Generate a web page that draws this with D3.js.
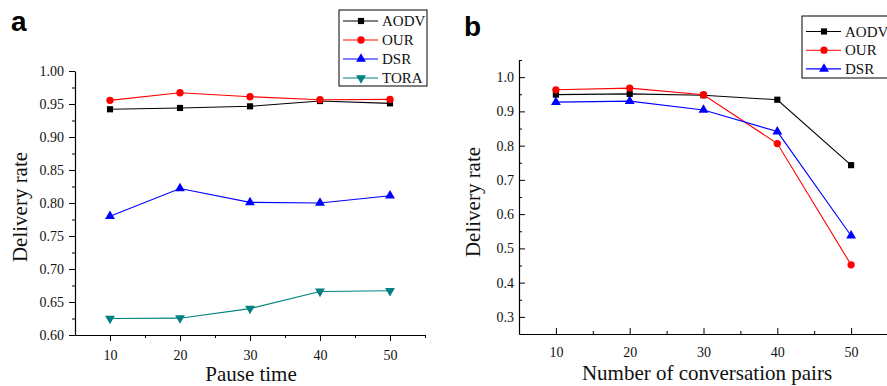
<!DOCTYPE html>
<html><head><meta charset="utf-8">
<script src="https://cdn.jsdelivr.net/npm/d3@7"></script>
<style>body{margin:0;background:#fff;} svg{display:block;}</style>
</head><body>
<svg id="c" width="887" height="386"></svg>
<script>
// Panel a data
const pauseTime = [10, 20, 30, 40, 50];
const aAODV = [0.942, 0.944, 0.9465, 0.9545, 0.951];
const aOUR  = [0.9555, 0.967, 0.961, 0.9565, 0.957];
const aDSR  = [0.780, 0.822, 0.801, 0.800, 0.811];
const aTORA = [0.625, 0.6255, 0.640, 0.666, 0.667];
const aYTicks = [0.60, 0.65, 0.70, 0.75, 0.80, 0.85, 0.90, 0.95, 1.00];
// Panel b data
const pairs = [10, 20, 30, 40, 50];
const bAODV = [0.949, 0.951, 0.947, 0.934, 0.743];
const bOUR  = [0.963, 0.968, 0.9485, 0.806, 0.452];
const bDSR  = [0.927, 0.930, 0.904, 0.841, 0.537];
const bYTicks = [0.3, 0.4, 0.5, 0.6, 0.7, 0.8, 0.9, 1.0];
const xTicks = [10, 20, 30, 40, 50];
const xMinor = [15, 25, 35, 45, 55];

const seriesNames = ["AODV", "OUR", "DSR", "TORA"];
const colors = {AODV: "#000000", OUR: "#ff0000", DSR: "#0000ff", TORA: "#008080"};
const symbols = {AODV: "square", OUR: "circle", DSR: "up", TORA: "down"};

const svg = d3.select("#c");
const serif = "'Liberation Serif','Times New Roman',serif";

function marker(g, kind, x, y, color) {
  let path;
  if (kind === "square") path = d3.symbol(d3.symbolSquare, 38)();
  else if (kind === "circle") path = d3.symbol(d3.symbolCircle, 42)();
  else path = d3.symbol(d3.symbolTriangle, 42)();
  g.append("path").attr("d", path)
    .attr("transform", `translate(${x},${y})` + (kind === "down" ? " rotate(180)" : ""))
    .attr("fill", color).attr("stroke", "none");
}

function styleAxis(g) {
  g.attr("font-family", serif).attr("font-size", 14);
  g.selectAll("path.domain").attr("stroke", "#000").attr("stroke-width", 1.2);
  g.selectAll(".tick line").attr("stroke", "#000").attr("stroke-width", 1);
  g.selectAll("text").attr("font-family", serif).attr("font-size", 14).attr("fill", "#111");
}

function panel(cfg) {
  const g = svg.append("g");
  const x = d3.scaleLinear().domain([5, 55]).range([cfg.x0, cfg.x1]);
  const y = d3.scaleLinear().domain(cfg.yDomain).range([cfg.y0, cfg.y1]);
  const dir = cfg.inward ? -1 : 1;

  // minor ticks
  const gyMinor = g.append("g").attr("transform", `translate(${cfg.x0},0)`)
    .call(d3.axisLeft(y).tickValues(cfg.yMinor).tickSize(3 * dir).tickFormat(""));
  const gxMinor = g.append("g").attr("transform", `translate(0,${cfg.y0})`)
    .call(d3.axisBottom(x).tickValues(xMinor).tickSize(3 * dir).tickFormat(""));
  [gyMinor, gxMinor].forEach(a => { a.select("path.domain").remove(); styleAxis(a); });

  const gy = g.append("g").attr("transform", `translate(${cfg.x0},0)`)
    .call(d3.axisLeft(y).tickValues(cfg.yTicks).tickSize(6 * dir).tickSizeOuter(0)
      .tickPadding(5).tickFormat(d3.format(cfg.fmt)));
  styleAxis(gy);
  const gx = g.append("g").attr("transform", `translate(0,${cfg.y0})`)
    .call(d3.axisBottom(x).tickValues(xTicks).tickSize(6 * dir).tickSizeOuter(0)
      .tickPadding(cfg.inward ? 13 : 9).tickFormat(d3.format("d")));
  styleAxis(gx);

  // lines and markers
  cfg.series.forEach(s => {
    const line = d3.line().x((d, i) => x(cfg.xs[i])).y(d => y(d));
    g.append("path").datum(s.values).attr("d", line)
      .attr("fill", "none").attr("stroke", colors[s.name]).attr("stroke-width", 1.1);
    s.values.forEach((v, i) => marker(g, symbols[s.name], x(cfg.xs[i]), y(v), colors[s.name]));
  });

  // titles
  g.append("text").attr("x", cfg.xTitleX).attr("y", cfg.xTitleY).attr("text-anchor", "middle")
    .attr("font-family", serif).attr("font-size", 21).attr("fill", "#111").text(cfg.xTitle);
  g.append("text").attr("transform", `translate(${cfg.yTitleX},${cfg.yTitleY}) rotate(-90)`)
    .attr("text-anchor", "middle").attr("font-family", serif).attr("font-size", 21)
    .attr("fill", "#111").text("Delivery rate");
  g.append("text").attr("x", cfg.labelX).attr("y", cfg.labelY)
    .attr("font-family", "'Liberation Sans',Arial,sans-serif").attr("font-weight", "bold")
    .attr("font-size", 28).attr("fill", "#000").text(cfg.label);

  // legend
  const L = cfg.legend;
  g.append("rect").attr("x", L.x).attr("y", L.y).attr("width", L.w).attr("height", L.h)
    .attr("fill", "#fff").attr("stroke", "#000").attr("stroke-width", 1);
  cfg.series.forEach((s, i) => {
    const yy = L.y + L.first + i * L.step;
    g.append("line").attr("x1", L.x + 4).attr("x2", L.x + 39).attr("y1", yy).attr("y2", yy)
      .attr("stroke", colors[s.name]).attr("stroke-width", 1.1);
    marker(g, symbols[s.name], L.x + 22, yy, colors[s.name]);
    g.append("text").attr("x", L.x + 43).attr("y", yy + 5)
      .attr("font-family", serif).attr("font-size", 15).attr("fill", "#111").text(s.name);
  });
}

panel({
  x0: 75, x1: 425, y0: 335, y1: 71, yDomain: [0.60, 1.00],
  yTicks: aYTicks, yMinor: [0.625, 0.675, 0.725, 0.775, 0.825, 0.875, 0.925, 0.975],
  fmt: ".2f", inward: false, xs: pauseTime,
  series: [{name: "AODV", values: aAODV}, {name: "OUR", values: aOUR},
           {name: "DSR", values: aDSR}, {name: "TORA", values: aTORA}],
  xTitle: "Pause time", xTitleX: 251, xTitleY: 381, yTitleX: 27, yTitleY: 207,
  label: "a", labelX: 11, labelY: 31,
  legend: {x: 339, y: 10, w: 88, h: 76, first: 11, step: 19}
});

panel({
  x0: 519, x1: 888, y0: 334, y1: 60, yDomain: [0.25, 1.05],
  yTicks: bYTicks, yMinor: [0.35, 0.45, 0.55, 0.65, 0.75, 0.85, 0.95, 1.05],
  fmt: ".1f", inward: true, xs: pairs,
  series: [{name: "AODV", values: bAODV}, {name: "OUR", values: bOUR},
           {name: "DSR", values: bDSR}],
  xTitle: "Number of conversation pairs", xTitleX: 707, xTitleY: 380, yTitleX: 480, yTitleY: 202,
  label: "b", labelX: 464, labelY: 36,
  legend: {x: 802, y: 16, w: 100, h: 62, first: 15.5, step: 18.7}
});
</script>
</body></html>
